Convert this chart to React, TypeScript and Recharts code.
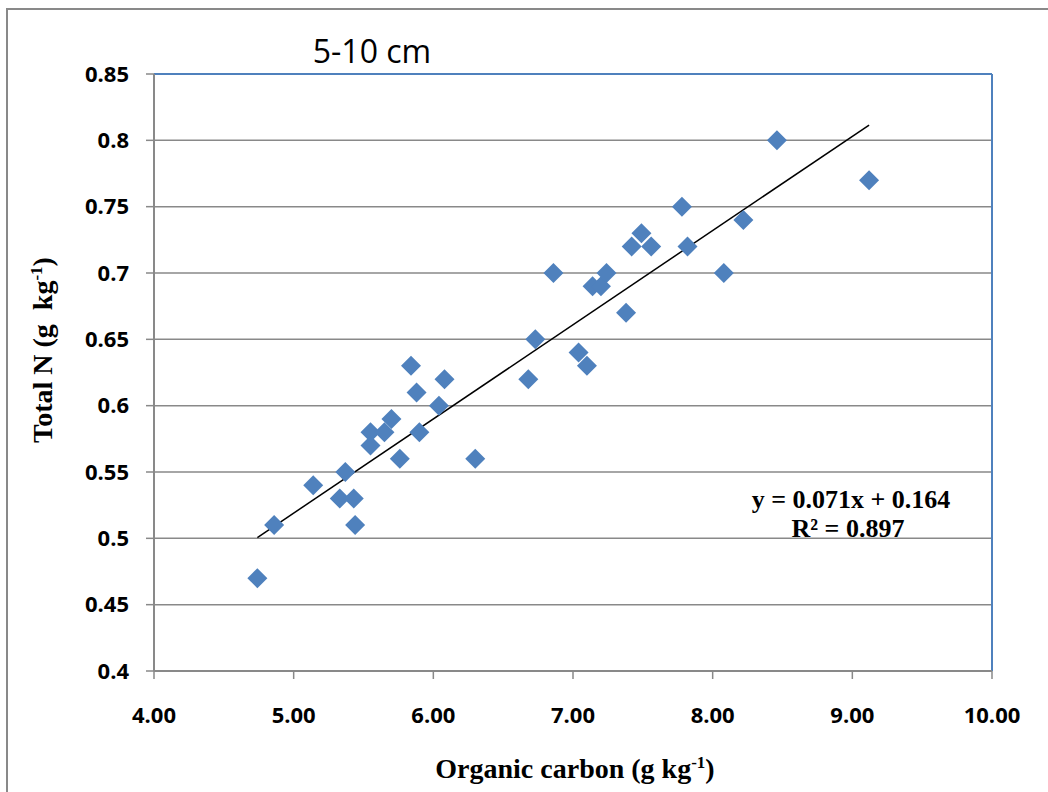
import {
  ScatterChart,
  Scatter,
  XAxis,
  YAxis,
  CartesianGrid,
  ReferenceLine,
} from "recharts";

// Organic carbon (g/kg) vs total N (g/kg), 5-10 cm layer
const carbon = [
  4.74, 4.86, 5.14, 5.33, 5.37, 5.43, 5.44, 5.55, 5.55, 5.65, 5.7, 5.76,
  5.84, 5.88, 5.9, 6.04, 6.08, 6.3, 6.68, 6.73, 6.86, 7.04, 7.1, 7.14, 7.2,
  7.24, 7.38, 7.42, 7.49, 7.56, 7.78, 7.82, 8.08, 8.22, 8.46, 9.12,
];
const nitrogen = [
  0.47, 0.51, 0.54, 0.53, 0.55, 0.53, 0.51, 0.58, 0.57, 0.58, 0.59, 0.56,
  0.63, 0.61, 0.58, 0.6, 0.62, 0.56, 0.62, 0.65, 0.7, 0.64, 0.63, 0.69, 0.69,
  0.7, 0.67, 0.72, 0.73, 0.72, 0.75, 0.72, 0.7, 0.74, 0.8, 0.77,
];
const xTicks = [4, 5, 6, 7, 8, 9, 10];
const yTicks = [0.4, 0.45, 0.5, 0.55, 0.6, 0.65, 0.7, 0.75, 0.8, 0.85];

const slope = 0.071;
const intercept = 0.164;

const BLUE = "#4f81bd";
const GRAY = "#898989";

const points = carbon.map((x, i) => ({ x, y: nitrogen[i] }));
const xMin = Math.min(...carbon);
const xMax = Math.max(...carbon);
const trend = [
  { x: xMin, y: slope * xMin + intercept },
  { x: xMax, y: slope * xMax + intercept },
];

const Diamond = (props: any) => {
  const { cx, cy } = props;
  const r = 10;
  return (
    <path
      d={`M${cx},${cy - r}L${cx + r},${cy}L${cx},${cy + r}L${cx - r},${cy}Z`}
      fill={BLUE}
    />
  );
};

const tickStyle = {
  fill: "#000",
  fontSize: 22,
  fontWeight: 700,
  fontFamily: '"Open Sans", sans-serif',
};

export default function App() {
  return (
    <div
      style={{
        position: "relative",
        width: 1048,
        height: 792,
        overflow: "hidden",
        background: "#fff",
      }}
    >
      <style>{"body{margin:0}"}</style>
      <div
        style={{
          position: "absolute",
          left: 6,
          top: 8,
          width: 1200,
          height: 1000,
          border: `2px solid ${GRAY}`,
        }}
      />
      <div style={{ position: "absolute", left: 0, top: 0 }}>
        <ScatterChart
          width={1048}
          height={792}
          margin={{ top: 74, right: 56, bottom: 61, left: 94 }}
        >
          <CartesianGrid
            vertical={false}
            stroke={GRAY}
            strokeWidth={1.5}
          />
          <XAxis
            type="number"
            dataKey="x"
            domain={[4, 10]}
            ticks={xTicks}
            tickFormatter={(v: number) => v.toFixed(2)}
            height={60}
            tick={tickStyle}
            tickSize={8}
            tickMargin={28}
            axisLine={{ stroke: GRAY, strokeWidth: 2 }}
            tickLine={{ stroke: GRAY, strokeWidth: 1.5 }}
          />
          <YAxis
            type="number"
            dataKey="y"
            domain={[0.4, 0.85]}
            ticks={yTicks}
            tickFormatter={(v: number) => String(v)}
            width={60}
            tick={tickStyle}
            tickSize={8}
            tickMargin={17}
            axisLine={{ stroke: GRAY, strokeWidth: 2 }}
            tickLine={{ stroke: GRAY, strokeWidth: 1.5 }}
          />
          <ReferenceLine y={0.85} stroke={BLUE} strokeWidth={2} />
          <ReferenceLine x={10} stroke={BLUE} strokeWidth={2} />
          <ReferenceLine
            segment={trend}
            stroke="#000"
            strokeWidth={1.5}
          />
          <Scatter
            data={points}
            shape={Diamond}
            isAnimationActive={false}
          />
        </ScatterChart>
      </div>
      <svg
        width={1048}
        height={792}
        style={{ position: "absolute", left: 0, top: 0, pointerEvents: "none" }}
      >
        <text
          x={372}
          y={63}
          textAnchor="middle"
          fontFamily='"Open Sans", sans-serif'
          fontSize={32}
          fill="#000"
        >
          5-10 cm
        </text>
        <g
          fontFamily='"Liberation Serif", "Times New Roman", serif'
          fontWeight={700}
          fill="#000"
        >
          <text x={851} y={508} textAnchor="middle" fontSize={26}>
            y = 0.071x + 0.164
          </text>
          <text x={848} y={537} textAnchor="middle" fontSize={26}>
            R² = 0.897
          </text>
          <text x={575} y={778} textAnchor="middle" fontSize={28}>
            Organic carbon (g kg
            <tspan dy={-10} fontSize={17}>
              -1
            </tspan>
            <tspan dy={10}>)</tspan>
          </text>
          <text
            transform="translate(52,350) rotate(-90)"
            textAnchor="middle"
            fontSize={28}
          >
            Total N (g{"\u00a0\u00a0"}kg
            <tspan dy={-10} fontSize={17}>
              -1
            </tspan>
            <tspan dy={10}>)</tspan>
          </text>
        </g>
      </svg>
    </div>
  );
}
